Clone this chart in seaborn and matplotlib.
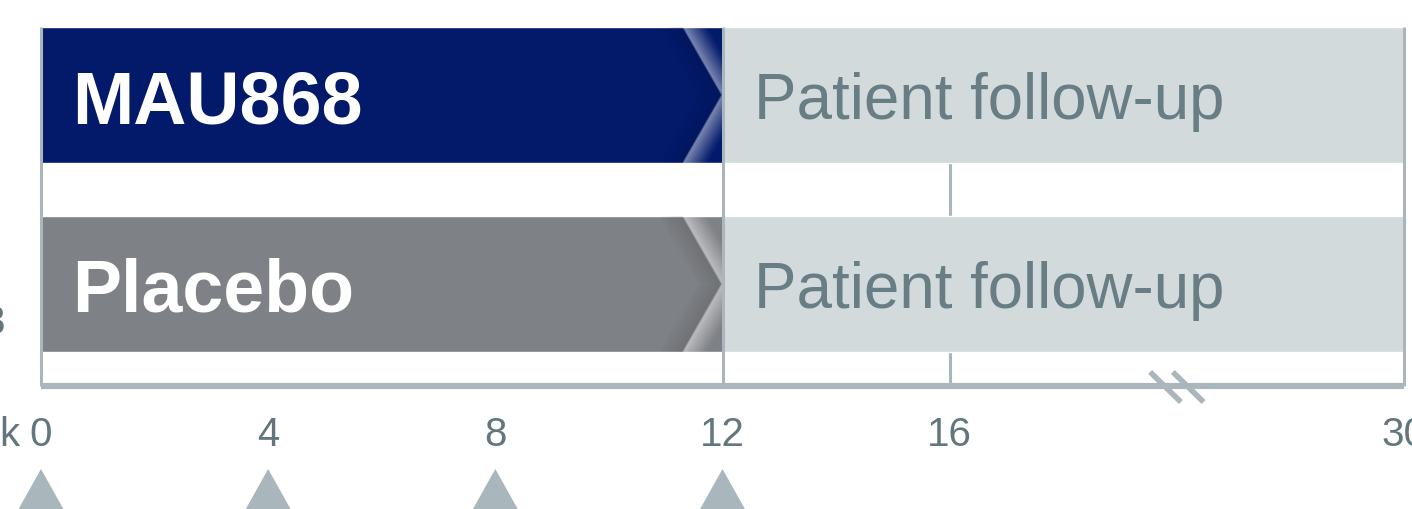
import numpy as np
import pandas as pd
import matplotlib
matplotlib.use("Agg")
import matplotlib.pyplot as plt
import seaborn as sns

# ---- data ----
arms = ["MAU868", "Placebo"]
treatment_end = [12, 12]          # weeks
followup_start = [12, 12]
followup_end_pos = [24, 24]       # axis position of week 30 (after axis break)
tick_pos = [0, 4, 8, 12, 16, 24]
tick_labels = ["0", "4", "8", "12", "16", "30"]
dosing_weeks = [0, 4, 8, 12]
followup_label = "Patient follow-up"

# ---- style ----
navy = "#031a6b"
grey = "#7e8185"
light = "#d2dadc"
line_c = "#a9b6bb"
text_c = "#687e84"
tick_c = "#62777d"

sns.set_theme(style="white")
plt.rcParams["font.family"] = ["Liberation Sans", "DejaVu Sans"]

W, H = 1412, 509
fig = plt.figure(figsize=(W / 100, H / 100), dpi=100)
ax = fig.add_axes([0, 0, 1, 1])

px_per_week = (1404 - 41) / 24.0
row_px = 189.0
bar_h = 136 / row_px

df = pd.DataFrame({"arm": arms, "end": treatment_end})
sns.barplot(data=df, x="end", y="arm", hue="arm", palette=[navy, grey],
            orient="h", width=bar_h, legend=False, ax=ax, zorder=2,
            saturation=1)
ax.set_ylim((H - 95) / row_px, -95 / row_px)
ax.set_xlim(-41 / px_per_week, 24 + (W - 1404) / px_per_week)
ax.axis("off")

rows = np.arange(len(arms))
fu_w = np.array(followup_end_pos) - np.array(followup_start)
ax.barh(rows, fu_w, left=followup_start, height=bar_h, color=light, zorder=2)

# chevron shading on treatment bars
patches = ax.patches[:len(arms)]
dx_chev = 39 / px_per_week
for r, p in zip(rows, patches):
    end = treatment_end[r]
    xs = np.array([end - dx_chev, end, end - dx_chev])
    ys = [r - bar_h / 2, r, r + bar_h / 2]
    n = 18
    for i in range(n):
        o = 0.45 * i / n
        l, = ax.plot(xs + o, ys, color="white", lw=1.6,
                     alpha=0.30 * (1 - i / n) ** 1.3, zorder=3,
                     solid_capstyle="butt")
        l.set_clip_path(p)
    for i in range(1, 10):
        o = -0.45 * i / 10
        l, = ax.plot(xs + o, ys, color="black", lw=2.0,
                     alpha=0.10 * (1 - i / 10), zorder=3, solid_capstyle="butt")
        l.set_clip_path(p)

# vertical guide lines
top = -bar_h / 2
base_y = (386.5 - 95) / row_px
ax.vlines([12, 0, 24], top, base_y, color=line_c, lw=2.2, zorder=4)
ax.vlines([16], top, base_y, color=line_c, lw=2.2, zorder=1)
# baseline
ax.hlines(base_y, 0, 24, color=line_c, lw=4.4, zorder=4)
# axis break marks
for bx in [19.8, 20.2]:
    ax.plot([bx - 0.27, bx + 0.27], [(372 - 95) / row_px, (402 - 95) / row_px],
            color=line_c, lw=4, zorder=5, solid_capstyle="butt")

# labels in bars
for r, name in enumerate(arms):
    ax.text(31 / px_per_week, r + (123 - 95) / row_px, name, color="white",
            fontsize=53, fontweight="bold", va="baseline", ha="left", zorder=6)
    ax.text(followup_start[r] + 31 / px_per_week, r + (119 - 95) / row_px,
            followup_label, color=text_c, fontsize=45.8, va="baseline",
            ha="left", zorder=6)

# tick labels
tick_y = (446 - 95) / row_px
for x, lab in zip(tick_pos, tick_labels):
    ax.text(x, tick_y, lab, color=tick_c, fontsize=29, ha="center", va="baseline")
ax.text(-20 / px_per_week, tick_y, "Week", color=tick_c, fontsize=29,
        ha="right", va="baseline")
ax.text((5 - 41) / px_per_week, 1 + (334 - 284) / row_px, "3", color=tick_c,
        fontsize=29, ha="right", va="baseline")

# dosing triangles
apex = (469 - 95) / row_px
bot = (511 - 95) / row_px
hw = 23.5 / px_per_week
for w in dosing_weeks:
    ax.fill([w - hw, w, w + hw], [bot, apex, bot], color=line_c, lw=0, zorder=3)

fig.savefig("out.png", dpi=100)
